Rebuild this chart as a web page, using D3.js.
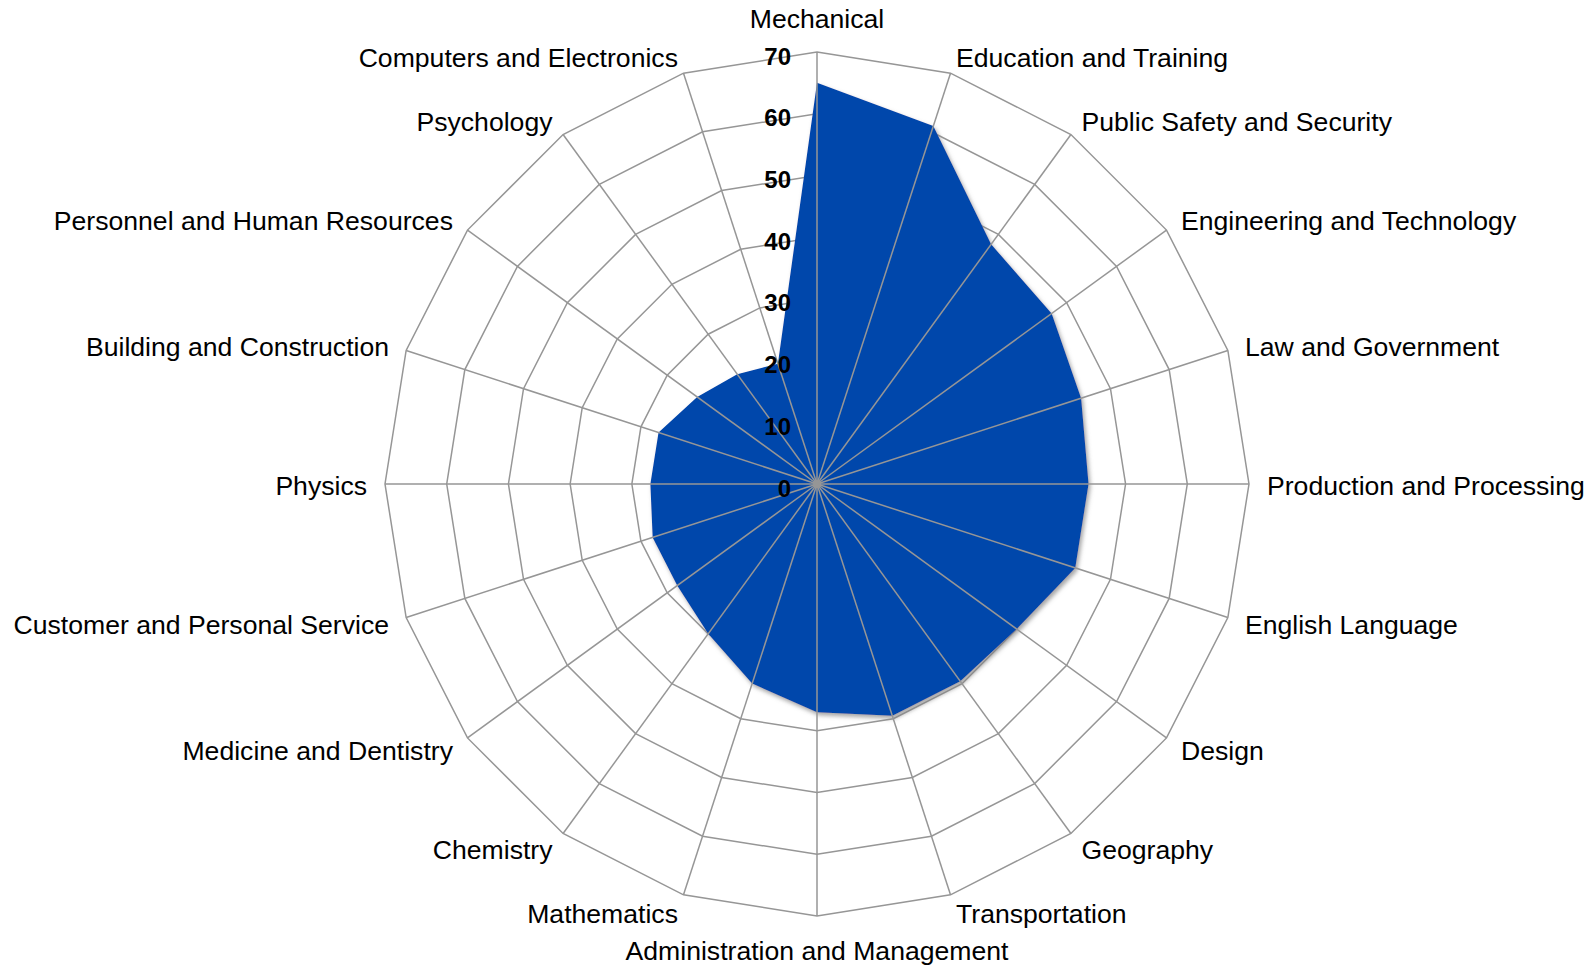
<!DOCTYPE html>
<html>
<head>
<meta charset="utf-8">
<script src="https://cdn.jsdelivr.net/npm/d3@7"></script>
<style>
  html, body { margin: 0; padding: 0; background: #fff; }
  svg { display: block; }
  text { font-family: "Liberation Sans", Arial, sans-serif; }
</style>
</head>
<body>
<div id="chart"></div>
<script>
// categories, clockwise from the top
var categories = [
  "Mechanical", "Education and Training", "Public Safety and Security",
  "Engineering and Technology", "Law and Government", "Production and Processing",
  "English Language", "Design", "Geography", "Transportation",
  "Administration and Management", "Mathematics", "Chemistry",
  "Medicine and Dentistry", "Customer and Personal Service", "Physics",
  "Building and Construction", "Personnel and Human Resources", "Psychology",
  "Computers and Electronics"
];
var values = [65, 61, 48, 47, 45, 44, 44, 40, 39.5, 39.5, 37, 34, 30, 28, 28, 27, 27, 24, 22, 20.5];
var ticks = [0, 10, 20, 30, 40, 50, 60, 70];

var width = 1595, height = 967;
var cx = 817, cy = 484, radius = 432;

var svg = d3.select("#chart")
  .append("svg")
  .attr("width", width)
  .attr("height", height);

var defs = svg.append("defs");
var f = defs.append("filter").attr("id", "shadow")
  .attr("x", "-10%").attr("y", "-10%").attr("width", "120%").attr("height", "120%");
f.append("feDropShadow")
  .attr("dx", 2).attr("dy", 3).attr("stdDeviation", 2)
  .attr("flood-color", "#808080").attr("flood-opacity", 0.7);

var r = d3.scaleLinear().domain([0, 70]).range([0, radius]);
var angle = d3.scalePoint()
  .domain(d3.range(categories.length + 1))
  .range([0, 2 * Math.PI]);

function pt(i, v) {
  var a = angle(i);
  return [cx + r(v) * Math.sin(a), cy - r(v) * Math.cos(a)];
}

var g = svg.append("g");

// rings
g.selectAll(".ring")
  .data(ticks.slice(1))
  .enter()
  .append("polygon")
  .attr("class", "ring")
  .attr("points", function(t) {
    return categories.map(function(c, i) { return pt(i, t).join(","); }).join(" ");
  })
  .attr("fill", "none")
  .attr("stroke", "#969696")
  .attr("stroke-width", 1.5);

// area
var line = d3.line()
  .x(function(d, i) { return pt(i, d)[0]; })
  .y(function(d, i) { return pt(i, d)[1]; })
  .curve(d3.curveLinearClosed);

g.append("path")
  .datum(values)
  .attr("d", line)
  .attr("fill", "#0047ab")
  .attr("filter", "url(#shadow)");

// spokes
g.selectAll(".spoke")
  .data(categories)
  .enter()
  .append("line")
  .attr("class", "spoke")
  .attr("x1", cx).attr("y1", cy)
  .attr("x2", function(d, i) { return pt(i, 70)[0]; })
  .attr("y2", function(d, i) { return pt(i, 70)[1]; })
  .attr("stroke", "#969696")
  .attr("stroke-width", 1.5);

g.append("circle")
  .attr("cx", cx).attr("cy", cy).attr("r", 4)
  .attr("fill", "#969696");

// tick labels
g.selectAll(".tick")
  .data(ticks)
  .enter()
  .append("text")
  .attr("class", "tick")
  .attr("x", cx - 26)
  .attr("y", function(t) { return cy - r(t) + 4; })
  .attr("text-anchor", "end")
  .attr("dominant-baseline", "central")
  .style("font-size", "24px")
  .style("font-weight", "bold")
  .attr("fill", "#000")
  .text(function(t) { return t; });

// category labels
g.selectAll(".label")
  .data(categories)
  .enter()
  .append("text")
  .attr("class", "label")
  .attr("x", function(d, i) {
    return cx + (radius + 18) * Math.sin(angle(i));
  })
  .attr("y", function(d, i) {
    var a = angle(i), c = Math.cos(a);
    var y = cy - (radius + 18) * c + 2;
    if (Math.abs(Math.sin(a)) < 0.01) y += c > 0 ? -17 : 15;
    return y;
  })
  .attr("text-anchor", function(d, i) {
    var s = Math.sin(angle(i));
    return s > 0.01 ? "start" : (s < -0.01 ? "end" : "middle");
  })
  .attr("dominant-baseline", "central")
  .style("font-size", "26.6px")
  .attr("fill", "#000")
  .text(function(d) { return d; });
</script>
</body>
</html>
